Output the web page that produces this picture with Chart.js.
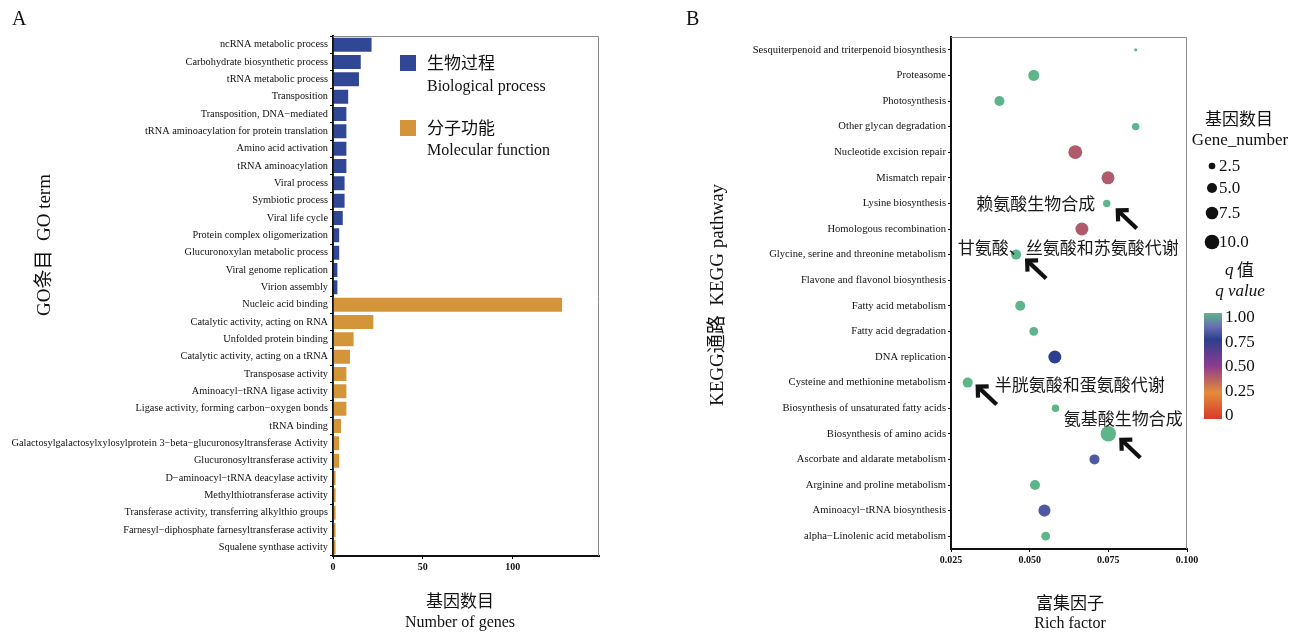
<!DOCTYPE html>
<html lang="en">
<head>
<meta charset="UTF-8">
<title>GO / KEGG enrichment</title>
<style>
  html, body { margin: 0; padding: 0; background: #fff; }
  .panel { position: absolute; top: 0; width: 650px; height: 634px; }
  #panelA { left: 0; }
  #panelB { left: 650px; }
</style>
</head>
<body>
<div class="panel" id="panelA"><canvas id="goChart" width="650" height="634"></canvas></div>
<div class="panel" id="panelB"><canvas id="keggChart" width="650" height="634"></canvas></div>

<script src="https://cdn.jsdelivr.net/npm/chart.js"></script>
<script>
    // ---- panel A : GO terms ----
    const bpTerms = ["ncRNA metabolic process", "Carbohydrate biosynthetic process", "tRNA metabolic process",
        "Transposition", "Transposition, DNA\u2212mediated", "tRNA aminoacylation for protein translation",
        "Amino acid activation", "tRNA aminoacylation", "Viral process", "Symbiotic process", "Viral life cycle",
        "Protein complex oligomerization", "Glucuronoxylan metabolic process", "Viral genome replication",
        "Virion assembly"];
    const bpCounts = [22, 16, 15, 9, 8, 8, 8, 8, 7, 7, 6, 4, 4, 3, 3];

    const mfTerms = ["Nucleic acid binding", "Catalytic activity, acting on RNA", "Unfolded protein binding",
        "Catalytic activity, acting on a tRNA", "Transposase activity", "Aminoacyl\u2212tRNA ligase activity",
        "Ligase activity, forming carbon\u2212oxygen bonds", "tRNA binding",
        "Galactosylgalactosylxylosylprotein 3\u2212beta\u2212glucuronosyltransferase Activity",
        "Glucuronosyltransferase activity", "D\u2212aminoacyl\u2212tRNA deacylase activity",
        "Methylthiotransferase activity", "Transferase activity, transferring alkylthio groups",
        "Farnesyl\u2212diphosphate farnesyltransferase activity", "Squalene synthase activity"];
    const mfCounts = [128, 23, 12, 10, 8, 8, 8, 5, 4, 4, 2, 2, 2, 2, 2];

    const goTicks = [0, 50, 100];

    // ---- panel B : KEGG pathways ----
    const pathways = ["Sesquiterpenoid and triterpenoid biosynthesis", "Proteasome", "Photosynthesis",
        "Other glycan degradation", "Nucleotide excision repair", "Mismatch repair", "Lysine biosynthesis",
        "Homologous recombination", "Glycine, serine and threonine metabolism", "Flavone and flavonol biosynthesis",
        "Fatty acid metabolism", "Fatty acid degradation", "DNA replication", "Cysteine and methionine metabolism",
        "Biosynthesis of unsaturated fatty acids", "Biosynthesis of amino acids", "Ascorbate and aldarate metabolism",
        "Arginine and proline metabolism", "Aminoacyl\u2212tRNA biosynthesis", "alpha\u2212Linolenic acid metabolism"];
    const richFactor = [0.0837, 0.0513, 0.0404, 0.0837, 0.0645, 0.0749, 0.0745, 0.0666, 0.0457, null,
        0.0470, 0.0513, 0.0580, 0.0303, 0.0582, 0.0750, 0.0706, 0.0517, 0.0547, 0.0551];
    const geneNumber = [1, 6, 5, 3, 9, 8, 3, 8, 5, null, 5, 4, 8, 5, 3, 11, 5, 5, 7, 4];
    const qValue = [1, 1, 1, 1, 0.4, 0.4, 1, 0.4, 1, null, 1, 1, 0.75, 1, 1, 1, 0.82, 1, 0.82, 1];

    const sizeBreaks = [2.5, 5.0, 7.5, 10.0];
    const qBreaks = [1.00, 0.75, 0.50, 0.25, 0];

    const notes = [
        { pathway: "Lysine biosynthesis", text: "赖氨酸生物合成", tdx: -71, tdy: 0, hx: 11, hy: 7 },
        { pathway: "Glycine, serine and threonine metabolism", text: "甘氨酸、丝氨酸和苏氨酸代谢", tdx: 52, tdy: -7, hx: 11, hy: 6 },
        { pathway: "Cysteine and methionine metabolism", text: "半胱氨酸和蛋氨酸代谢", tdx: 112, tdy: 2, hx: 10, hy: 4 },
        { pathway: "Biosynthesis of amino acids", text: "氨基酸生物合成", tdx: 15, tdy: -15, hx: 13, hy: 6 }
    ];

    const SERIF = "'Liberation Serif', 'Noto Sans CJK SC', serif";
    const CJK = "'Noto Sans CJK SC', sans-serif";
    const BLUE = '#2F4795';
    const ORANGE = '#D4953A';

    // q value colour ramp (red -> orange -> purple -> blue -> green)
    const qStops = [
        [0, [216, 58, 44]], [0.25, [228, 139, 59]], [0.5, [142, 59, 142]],
        [0.75, [46, 63, 143]], [0.875, [104, 112, 178]], [1, [93, 181, 138]]
    ];
    function qColor(q) {
        for (let i = 1; i < qStops.length; i++) {
            if (q <= qStops[i][0]) {
                const [q0, c0] = qStops[i - 1], [q1, c1] = qStops[i];
                const t = (q - q0) / (q1 - q0);
                const c = c0.map((v, k) => Math.round(v + (c1[k] - v) * t));
                return `rgb(${c[0]},${c[1]},${c[2]})`;
            }
        }
        return 'rgb(93,181,138)';
    }
    // point radius: area proportional to gene number
    function sizeScale(n) {
        return Math.sqrt(Math.max(5.65 * n - 3.1, 1.5));
    }

    function vText(ctx, txt, x, y, font) {
        ctx.save();
        ctx.translate(x, y);
        ctx.rotate(-Math.PI / 2);
        ctx.font = font;
        ctx.textAlign = 'center';
        ctx.textBaseline = 'middle';
        ctx.fillText(txt, 0, 0);
        ctx.restore();
    }
    function text(ctx, txt, x, y, font, align) {
        ctx.font = font;
        ctx.textAlign = align || 'left';
        ctx.textBaseline = 'middle';
        ctx.fillText(txt, x, y);
    }
    function boxBorder(chart) {
        const a = chart.chartArea, ctx = chart.ctx;
        ctx.save();
        ctx.strokeStyle = '#8a8a8a';
        ctx.lineWidth = 1;
        ctx.beginPath();
        ctx.moveTo(a.left, a.top + 0.5);
        ctx.lineTo(a.right - 0.5, a.top + 0.5);
        ctx.lineTo(a.right - 0.5, a.bottom);
        ctx.stroke();
        ctx.restore();
    }
    function arrow(ctx, hx, hy, tx, ty) {
        const ang = Math.atan2(hy - ty, hx - tx);
        const L = 11, W = 0.78;
        ctx.save();
        ctx.strokeStyle = '#111';
        ctx.lineWidth = 4.2;
        ctx.lineCap = 'butt';
        ctx.lineJoin = 'miter';
        ctx.beginPath();
        ctx.moveTo(tx, ty);
        ctx.lineTo(hx + 1.5 * Math.cos(ang + Math.PI), hy + 1.5 * Math.sin(ang + Math.PI));
        ctx.stroke();
        ctx.beginPath();
        ctx.moveTo(hx - L * Math.cos(ang - W), hy - L * Math.sin(ang - W));
        ctx.lineTo(hx, hy);
        ctx.lineTo(hx - L * Math.cos(ang + W), hy - L * Math.sin(ang + W));
        ctx.stroke();
        ctx.restore();
    }

    const axisCommon = {
        grid: { drawOnChartArea: false, tickLength: 3, color: '#111', tickWidth: 1 },
        border: { color: '#111', width: 2 }
    };

    // ---------- Chart A ----------
    const goDecor = {
        id: 'goDecor',
        afterDraw(chart) {
            const ctx = chart.ctx;
            boxBorder(chart);
            ctx.save();
            ctx.fillStyle = '#111';
            text(ctx, 'A', 12, 20, "20px " + SERIF);
            vText(ctx, 'GO条目  GO term', 45, 245, "19px " + SERIF);
            const cx = (chart.chartArea.left + chart.chartArea.right) / 2 - 6;
            text(ctx, '基因数目', cx, 601, "17px " + CJK, 'center');
            text(ctx, 'Number of genes', cx, 623, "16px " + SERIF, 'center');
            // legend
            ctx.fillStyle = BLUE;
            ctx.fillRect(400, 55, 16, 16);
            ctx.fillStyle = ORANGE;
            ctx.fillRect(400, 120, 16, 16);
            ctx.fillStyle = '#111';
            text(ctx, '生物过程', 427, 63, "17px " + CJK);
            text(ctx, 'Biological process', 427, 87, "16px " + SERIF);
            text(ctx, '分子功能', 427, 128, "17px " + CJK);
            text(ctx, 'Molecular function', 427, 151, "16px " + SERIF);
            ctx.restore();
        }
    };

    new Chart(document.getElementById('goChart'), {
        type: 'bar',
        data: {
            labels: bpTerms.concat(mfTerms),
            datasets: [
                {
                    label: 'Biological process',
                    data: bpTerms.map((t, i) => ({ y: t, x: bpCounts[i] })),
                    backgroundColor: BLUE
                },
                {
                    label: 'Molecular function',
                    data: mfTerms.map((t, i) => ({ y: t, x: mfCounts[i] })),
                    backgroundColor: ORANGE
                }
            ]
        },
        options: {
            indexAxis: 'y',
            responsive: false,
            animation: false,
            layout: { padding: { top: 36, right: 51, bottom: 0, left: 0 } },
            datasets: {
                bar: {
                    grouped: false, categoryPercentage: 1, barPercentage: 0.92,
                    borderColor: 'rgba(255,255,255,0.85)', borderWidth: 1
                }
            },
            plugins: { legend: { display: false }, tooltip: { enabled: false } },
            scales: {
                x: {
                    ...axisCommon,
                    min: 0, max: 148,
                    afterBuildTicks: s => { s.ticks = goTicks.map(v => ({ value: v })); },
                    ticks: { font: { family: SERIF, size: 10, weight: 'bold' }, color: '#111', padding: 2 },
                    afterFit: s => { s.height = 78; }
                },
                y: {
                    ...axisCommon,
                    ticks: { font: { family: SERIF, size: 10.3 }, color: '#111', padding: 2, autoSkip: false },
                    afterFit: s => { s.width = 333; }
                }
            }
        },
        plugins: [goDecor]
    });

    // ---------- Chart B ----------
    const points = [];
    pathways.forEach((p, i) => {
        if (richFactor[i] === null) return;
        points.push({ x: richFactor[i], y: p, r: sizeScale(geneNumber[i]), q: qValue[i] });
    });

    const keggDecor = {
        id: 'keggDecor',
        afterDraw(chart) {
            const ctx = chart.ctx;
            const xs = chart.scales.x, ys = chart.scales.y;
            boxBorder(chart);
            ctx.save();
            ctx.fillStyle = '#111';
            text(ctx, 'B', 36, 20, "20px " + SERIF);
            vText(ctx, 'KEGG通路  KEGG pathway', 68, 295, "19px " + SERIF);
            const cx = (chart.chartArea.left + chart.chartArea.right) / 2 + 1;
            text(ctx, '富集因子', cx, 603, "17px " + CJK, 'center');
            text(ctx, 'Rich factor', cx, 624, "16px " + SERIF, 'center');

            // annotations with arrows
            notes.forEach(n => {
                const i = pathways.indexOf(n.pathway);
                const px = xs.getPixelForValue(richFactor[i]);
                const py = ys.getPixelForTick(i);
                ctx.fillStyle = '#1a1a1a';
                text(ctx, n.text, px + n.tdx, py + n.tdy, "17px " + CJK, 'center');
                const hx = px + n.hx, hy = py + n.hy;
                arrow(ctx, hx, hy, hx + 19, hy + 18);
            });

            // size legend
            ctx.fillStyle = '#111';
            text(ctx, '基因数目', 589, 119, "17px " + CJK, 'center');
            text(ctx, 'Gene_number', 590, 141, "17px " + SERIF, 'center');
            const sizeY = [166, 188, 213, 242];
            sizeBreaks.forEach((b, k) => {
                ctx.beginPath();
                ctx.arc(562, sizeY[k], sizeScale(b), 0, Math.PI * 2);
                ctx.fill();
                text(ctx, b.toFixed(1), 569, sizeY[k] + 1, "17px " + SERIF);
            });

            // colour legend
            ctx.font = "italic 17px " + SERIF;
            ctx.textAlign = 'left';
            ctx.textBaseline = 'middle';
            ctx.fillText('q', 575, 271);
            text(ctx, '值', 587, 270, "17px " + CJK);
            text(ctx, 'q value', 590, 292, "italic 17px " + SERIF, 'center');
            const top = 313, bot = 419;
            const g = ctx.createLinearGradient(0, top, 0, bot);
            qStops.forEach(s => g.addColorStop(1 - s[0], qColor(s[0])));
            ctx.fillStyle = g;
            ctx.fillRect(554, top, 18, bot - top);
            ctx.fillStyle = '#111';
            qBreaks.forEach(q => {
                const y = 318 + (1 - q) * 98;
                text(ctx, q === 0 ? '0' : q.toFixed(2), 575, y, "17px " + SERIF);
            });
            ctx.restore();
        }
    };

    new Chart(document.getElementById('keggChart'), {
        type: 'bubble',
        data: {
            datasets: [{
                label: 'KEGG',
                data: points,
                backgroundColor: c => (c.raw ? qColor(c.raw.q) : '#5DB58A'),
                borderWidth: 0
            }]
        },
        options: {
            responsive: false,
            animation: false,
            layout: { padding: { top: 37, right: 113, bottom: 0, left: 0 } },
            plugins: { legend: { display: false }, tooltip: { enabled: false } },
            scales: {
                x: {
                    ...axisCommon,
                    type: 'linear', min: 0.025, max: 0.1,
                    ticks: {
                        stepSize: 0.025, includeBounds: false,
                        callback: v => Number(v).toFixed(3),
                        font: { family: SERIF, size: 10, weight: 'bold' }, color: '#111', padding: 2
                    },
                    afterFit: s => { s.height = 85; }
                },
                y: {
                    ...axisCommon,
                    type: 'category', labels: pathways, offset: true,
                    ticks: { font: { family: SERIF, size: 10.6 }, color: '#111', padding: 2, autoSkip: false },
                    afterFit: s => { s.width = 301; }
                }
            }
        },
        plugins: [keggDecor]
    });
</script>
</body>
</html>
